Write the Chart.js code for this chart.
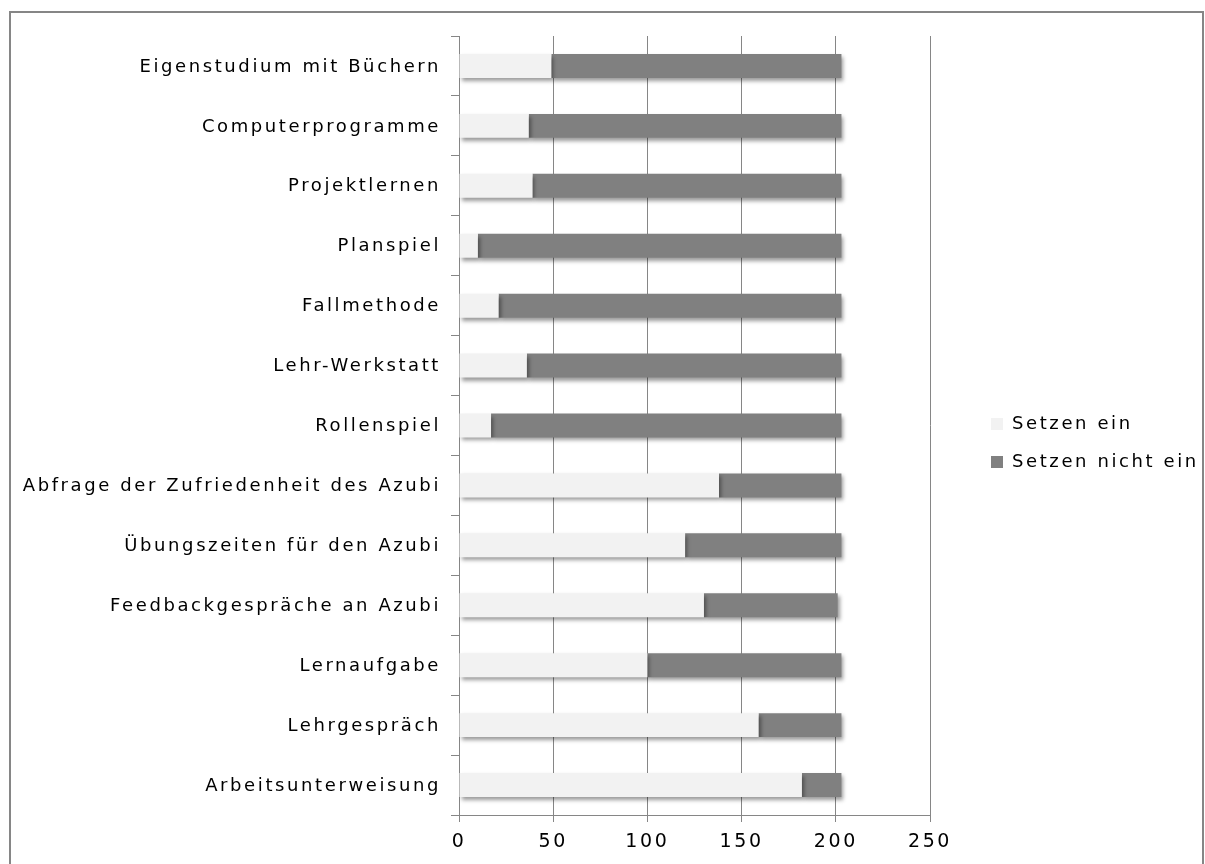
<!DOCTYPE html>
<html>
<head>
<meta charset="utf-8">
<script src="https://cdn.jsdelivr.net/npm/chart.js@4"></script>
<style>
body { margin: 0; background: #fff; }
</style>
</head>
<body>
<canvas id="chart" width="1205" height="864"></canvas>
<script>
// categories listed top to bottom, as in the picture
var categories = [
  'Eigenstudium mit Büchern',
  'Computerprogramme',
  'Projektlernen',
  'Planspiel',
  'Fallmethode',
  'Lehr-Werkstatt',
  'Rollenspiel',
  'Abfrage der Zufriedenheit des Azubi',
  'Übungszeiten für den Azubi',
  'Feedbackgespräche an Azubi',
  'Lernaufgabe',
  'Lehrgespräch',
  'Arbeitsunterweisung'
];
var setzenEin      = [49, 37, 39, 10, 21, 36, 17, 138, 120, 130, 100, 159, 182];
var setzenNichtEin = [154, 166, 164, 193, 182, 167, 186, 65, 83, 71, 103, 44, 21];
var xTicks = [0, 50, 100, 150, 200, 250];

var spacing = '2.6px';
var gridGray = '#868686';
var fontFamily = 'DejaVu Sans';

// frame, wide letter spacing, legend placement and bar shadows
var helper = {
  id: 'helper',
  afterInit: function(chart) {
    var legend = chart.legend;
    var fit = legend.fit;
    legend.fit = function() {
      fit.call(this);
      this.width = 275;
    };
  },
  beforeUpdate: function(chart) {
    chart.ctx.letterSpacing = spacing;
  },
  afterLayout: function(chart) {
    var lg = chart.legend;
    lg.left = 971;
    lg.right = 1205;
    lg.top -= 7;
    lg.bottom -= 7;
  },
  beforeDraw: function(chart) {
    var ctx = chart.ctx;
    ctx.letterSpacing = spacing;
    ctx.save();
    ctx.strokeStyle = gridGray;
    ctx.lineWidth = 2;
    ctx.strokeRect(10, 12, 1193, 900);
    ctx.restore();
  },
  beforeDatasetsDraw: function(chart) {
    var ctx = chart.ctx;
    ctx.save();
    ctx.shadowColor = 'rgba(0,0,0,0.4)';
    ctx.shadowBlur = 4;
    ctx.shadowOffsetX = 2;
    ctx.shadowOffsetY = 3;
  },
  afterDatasetsDraw: function(chart) {
    chart.ctx.restore();
  }
};

var ctx = document.getElementById('chart').getContext('2d');
var myChart = new Chart(ctx, {
  type: 'bar',
  data: {
    labels: categories,
    datasets: [{
      label: 'Setzen ein',
      data: setzenEin,
      backgroundColor: '#f2f2f2',
      borderWidth: 0,
      barPercentage: 0.4,
      categoryPercentage: 1
    }, {
      label: 'Setzen nicht ein',
      data: setzenNichtEin,
      backgroundColor: '#808080',
      borderWidth: 0,
      barPercentage: 0.4,
      categoryPercentage: 1
    }]
  },
  options: {
    indexAxis: 'y',
    responsive: false,
    animation: false,
    devicePixelRatio: 1,
    layout: { padding: { top: 36, left: 0, right: 0, bottom: 0 } },
    plugins: {
      legend: {
        position: 'right',
        labels: {
          boxWidth: 12,
          boxHeight: 12,
          padding: 20,
          color: '#000',
          font: { family: fontFamily, size: 18 }
        }
      },
      tooltip: { enabled: false }
    },
    scales: {
      x: {
        stacked: true,
        min: 0,
        max: 250,
        afterBuildTicks: function(scale) {
          scale.ticks = xTicks.map(function(v) { return { value: v }; });
        },
        ticks: {
          color: '#000',
          padding: 9,
          font: { family: fontFamily, size: 19 }
        },
        grid: { color: gridGray, tickLength: 7 },
        border: { color: gridGray },
        afterFit: function(scale) { scale.height = 49; }
      },
      y: {
        stacked: true,
        ticks: {
          color: '#000',
          padding: 10,
          labelOffset: 1,
          autoSkip: false,
          font: { family: fontFamily, size: 18 }
        },
        grid: { drawOnChartArea: false, color: gridGray, tickLength: 8 },
        border: { color: gridGray },
        afterFit: function(scale) { scale.width = 459; }
      }
    }
  },
  plugins: [helper]
});
</script>
</body>
</html>
